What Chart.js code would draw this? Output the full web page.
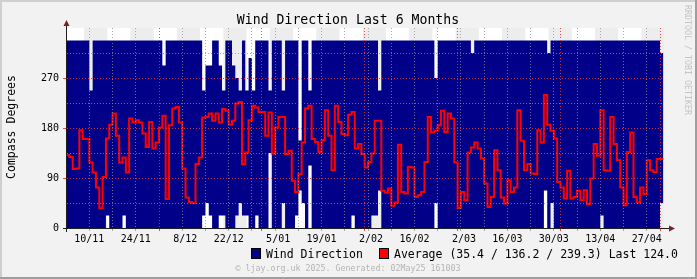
<!DOCTYPE html>
<html>
<head>
<meta charset="utf-8">
<script src="https://cdn.jsdelivr.net/npm/chart.js@4.4.0/dist/chart.umd.min.js"></script>
<style>
  html, body { margin: 0; padding: 0; background: #f2f2f2; }
  #wrap { width: 697px; height: 279px; }
</style>
</head>
<body>
<div id="wrap"><canvas id="myChart" width="697" height="279"></canvas></div>
<script>
// x values are days counted from 1 Nov 2024 (0 = 1 Nov), one bin per day
const firstDay = 2;

// daily average direction (red line), 3 Nov .. 1 May
const avgDir = [
  131, 128, 106, 107, 176, 160, 160, 118, 100, 73,
  35.4, 92, 161, 186, 206, 166, 118, 127, 100, 197,
  190, 194, 190, 170, 146, 191, 143, 154, 181, 202,
  52, 185, 215, 218, 190, 107, 55, 47, 45, 115,
  127, 199, 200, 206, 193, 206, 190, 214, 211, 186,
  193, 224, 227, 115, 136, 194, 220, 217, 209, 209,
  166, 208, 134, 181, 200, 200, 133, 139, 85, 65,
  97, 154, 215, 220, 160, 155, 137, 158, 212, 166,
  104, 220, 191, 169, 167, 204, 209, 143, 151, 133,
  109, 119, 134, 193, 193, 67, 64, 71, 40, 46,
  150, 65, 62, 110, 109, 56, 59, 65, 119, 200,
  172, 175, 185, 211, 173, 206, 197, 118, 36, 65,
  50, 136, 145, 154, 143, 125, 80, 38, 56, 140,
  104, 55, 44, 86, 65, 73, 212, 157, 104, 115,
  98, 97, 176, 154, 239.3, 186, 175, 161, 83, 73,
  53, 103, 53, 56, 67, 50, 68, 43, 89, 151,
  130, 212, 104, 103, 200, 151, 122, 73, 41, 137,
  172, 56, 46, 73, 61, 122, 104, 101, 124, 124
];

// daily lowest direction seen (bottom of the blue band)
const minDir = [
  0, 0, 0, 0, 0, 0, 0, 0, 0, 0,
  0, 0, 22.5, 0, 0, 0, 0, 22.5, 0, 0,
  0, 0, 0, 0, 0, 0, 0, 0, 0, 0,
  0, 0, 0, 0, 0, 0, 0, 0, 0, 0,
  0, 22.5, 45, 22.5, 0, 0, 22.5, 22.5, 0, 0,
  0, 22.5, 45, 22.5, 22.5, 0, 0, 22.5, 0, 0,
  0, 135, 0, 0, 0, 45, 0, 0, 0, 22.5,
  67.5, 45, 0, 112.5, 0, 0, 0, 0, 0, 0,
  0, 0, 0, 0, 0, 0, 22.5, 0, 0, 0,
  0, 0, 22.5, 22.5, 67.5, 0, 0, 0, 0, 0,
  0, 0, 0, 0, 0, 0, 0, 0, 0, 0,
  0, 45, 0, 0, 0, 0, 0, 0, 0, 0,
  0, 0, 0, 0, 0, 0, 0, 0, 0, 0,
  0, 0, 0, 0, 0, 0, 0, 0, 0, 0,
  0, 0, 0, 0, 67.5, 0, 45, 0, 0, 0,
  0, 0, 0, 0, 0, 0, 0, 0, 0, 0,
  0, 22.5, 0, 0, 0, 0, 0, 0, 0, 0,
  0, 0, 0, 0, 0, 0, 0, 0, 0, 45
];

// daily highest direction seen (top of the blue band)
const maxDir = [
  337.5, 337.5, 337.5, 337.5, 337.5, 337.5, 337.5, 247.5, 337.5, 337.5,
  337.5, 337.5, 337.5, 337.5, 337.5, 337.5, 337.5, 337.5, 337.5, 337.5,
  337.5, 337.5, 337.5, 337.5, 337.5, 337.5, 337.5, 337.5, 337.5, 292.5,
  337.5, 337.5, 337.5, 337.5, 337.5, 337.5, 337.5, 337.5, 337.5, 337.5,
  337.5, 247.5, 292.5, 292.5, 337.5, 337.5, 292.5, 247.5, 337.5, 337.5,
  292.5, 270, 247.5, 337.5, 247.5, 306, 247.5, 337.5, 337.5, 337.5,
  337.5, 247.5, 337.5, 337.5, 337.5, 247.5, 337.5, 337.5, 337.5, 337.5,
  157.5, 337.5, 337.5, 247.5, 337.5, 337.5, 337.5, 337.5, 337.5, 337.5,
  337.5, 337.5, 337.5, 337.5, 337.5, 337.5, 337.5, 337.5, 337.5, 337.5,
  337.5, 337.5, 337.5, 337.5, 247.5, 337.5, 337.5, 337.5, 337.5, 337.5,
  337.5, 337.5, 337.5, 337.5, 337.5, 337.5, 337.5, 337.5, 337.5, 337.5,
  337.5, 270, 337.5, 337.5, 337.5, 337.5, 337.5, 337.5, 337.5, 337.5,
  337.5, 337.5, 315, 337.5, 337.5, 337.5, 337.5, 337.5, 337.5, 337.5,
  337.5, 337.5, 337.5, 337.5, 337.5, 337.5, 337.5, 337.5, 337.5, 337.5,
  337.5, 337.5, 337.5, 337.5, 337.5, 315, 337.5, 337.5, 337.5, 337.5,
  337.5, 337.5, 337.5, 337.5, 337.5, 337.5, 337.5, 337.5, 337.5, 337.5,
  337.5, 337.5, 337.5, 337.5, 337.5, 337.5, 337.5, 337.5, 337.5, 337.5,
  337.5, 337.5, 337.5, 337.5, 337.5, 337.5, 337.5, 337.5, 337.5, 315
];

// x axis labels (Sundays, every 2 weeks) and month starts
const tickDays = [9, 23, 37, 51, 65, 79, 93, 107, 121, 135, 149, 163, 177];
const tickLabels = ['10/11', '24/11', ' 8/12', '22/12', ' 5/01', '19/01', ' 2/02',
                    '16/02', ' 2/03', '16/03', '30/03', '13/04', '27/04'];
const monthDays = [30, 61, 92, 120, 151, 181];
const yTicks = [0, 90, 180, 270];

const GRID = 'rgba(143,143,143,0.75)';
const MGRID = 'rgba(235,45,45,0.85)';
const MONO = 'DejaVu Sans Mono';

function steps(values) {
  const pts = values.map((v, i) => ({ x: firstDay + i, y: v }));
  pts.push({ x: firstDay + values.length, y: values[values.length - 1] });
  return pts;
}

const gridDays = [];
for (let d = tickDays[0]; d < 182.2; d += 7) gridDays.push(d);
monthDays.forEach(d => { if (!gridDays.includes(d)) gridDays.push(d); });
gridDays.sort((a, b) => a - b);

const yGrid = [];
for (let v = 0; v < 360; v += 22.5) yGrid.push(v);

// canvas background, frame and the weekly white / grey bands
const backdrop = {
  id: 'backdrop',
  beforeDraw(chart) {
    const { ctx, width, height } = chart;
    ctx.save();
    ctx.fillStyle = '#f2f2f2';
    ctx.fillRect(0, 0, width, height);
    ctx.fillStyle = '#cfcfcf';
    ctx.fillRect(0, 0, width, 2);
    ctx.fillRect(0, 0, 2, height);
    ctx.fillStyle = '#9e9e9e';
    ctx.fillRect(0, height - 2, width, 2);
    ctx.fillRect(width - 2, 0, 2, height);
    ctx.restore();
  },
  beforeDatasetsDraw(chart) {
    const { ctx, chartArea: a, scales: { x } } = chart;
    ctx.save();
    ctx.fillStyle = '#ffffff';
    ctx.fillRect(a.left, a.top, a.width, a.height);
    ctx.fillStyle = '#ededed';
    for (let s = 7.4; s < x.max; s += 14) {
      const x0 = Math.max(x.getPixelForValue(s), a.left);
      const x1 = Math.min(x.getPixelForValue(s + 7), a.right);
      if (x1 > x0) ctx.fillRect(x0, a.top, x1 - x0, a.height);
    }
    ctx.restore();
  }
};

// axes with arrows, title, legend and the small texts
const decor = {
  id: 'decor',
  afterDraw(chart) {
    const { ctx, chartArea: a } = chart;
    ctx.save();
    ctx.fillStyle = '#1f1f1f';
    ctx.fillRect(a.left - 4, a.bottom, a.right - a.left + 10, 1);
    ctx.fillRect(a.left - 1, a.top - 6, 1, a.bottom - a.top + 10);
    ctx.fillStyle = '#801f1f';
    ctx.beginPath();
    ctx.moveTo(a.right + 11, a.bottom + 0.5);
    ctx.lineTo(a.right + 5, a.bottom - 2.5);
    ctx.lineTo(a.right + 5, a.bottom + 3.5);
    ctx.fill();
    ctx.beginPath();
    ctx.moveTo(a.left - 0.5, a.top - 8);
    ctx.lineTo(a.left - 3.5, a.top - 2);
    ctx.lineTo(a.left + 2.5, a.top - 2);
    ctx.fill();

    ctx.fillStyle = '#000';
    ctx.textBaseline = 'alphabetic';
    ctx.font = '13.2px "' + MONO + '"';
    ctx.textAlign = 'center';
    ctx.fillText('Wind Direction Last 6 Months', 348, 24);

    ctx.font = '11.5px "' + MONO + '"';
    ctx.save();
    ctx.translate(15, 127);
    ctx.rotate(-Math.PI / 2);
    ctx.fillText('Compass Degrees', 0, 0);
    ctx.restore();

    ctx.textAlign = 'left';
    ctx.fillStyle = '#000088';
    ctx.fillRect(252, 249, 8, 9);
    ctx.strokeStyle = '#000';
    ctx.lineWidth = 1;
    ctx.strokeRect(251.5, 248.5, 9, 10);
    ctx.fillStyle = '#ff0000';
    ctx.fillRect(380, 249, 8, 9);
    ctx.strokeRect(379.5, 248.5, 9, 10);
    ctx.fillStyle = '#000';
    ctx.fillText('Wind Direction', 266, 258);
    ctx.fillText('Average (35.4 / 136.2 / 239.3) Last 124.0', 394, 258);

    ctx.font = '8.3px "' + MONO + '"';
    ctx.fillStyle = '#b4b4b4';
    ctx.textAlign = 'center';
    ctx.fillText('\u00a9 ljay.org.uk 2025. Generated: 02May25 161003', 348, 271);

    ctx.fillStyle = '#c4c4c4';
    ctx.textAlign = 'left';
    ctx.translate(684.5, 5);
    ctx.rotate(Math.PI / 2);
    ctx.fillText('RRDTOOL / TOBI OETIKER', 0, 0);
    ctx.restore();
  }
};

const ctx = document.getElementById('myChart').getContext('2d');
new Chart(ctx, {
  type: 'line',
  data: {
    datasets: [
      {
        label: 'Wind Direction',
        data: steps(maxDir),
        stepped: true,
        borderWidth: 0,
        borderColor: 'rgba(0,0,0,0)',
        pointRadius: 0,
        backgroundColor: '#000088',
        fill: 1,
        order: 2
      },
      {
        label: 'low',
        data: steps(minDir),
        stepped: true,
        borderWidth: 0,
        borderColor: 'rgba(0,0,0,0)',
        pointRadius: 0,
        fill: false,
        order: 3
      },
      {
        label: 'Average',
        data: steps(avgDir),
        stepped: true,
        borderColor: '#ff0000',
        borderWidth: 2,
        pointRadius: 0,
        fill: false,
        order: 1
      }
    ]
  },
  options: {
    responsive: false,
    animation: false,
    devicePixelRatio: 1,
    layout: { padding: { left: 0, top: 28, right: 33, bottom: 0 } },
    plugins: { legend: { display: false }, tooltip: { enabled: false }, title: { display: false } },
    scales: {
      x: {
        type: 'linear',
        min: 2.27,
        max: 182.2,
        afterBuildTicks: s => { s.ticks = gridDays.map(v => ({ value: v })); },
        afterFit: s => { s.height = 51; },
        grid: {
          z: 1,
          lineWidth: 1,
          tickLength: 3,
          color: c => monthDays.includes(c.tick.value) ? MGRID : GRID,
          tickColor: c => monthDays.includes(c.tick.value) ? MGRID : GRID
        },
        border: { display: false, dash: [1, 2] },
        ticks: {
          autoSkip: false,
          maxRotation: 0,
          padding: 2,
          color: '#000',
          font: { family: MONO, size: 10 },
          callback: v => {
            const k = tickDays.indexOf(v);
            return k >= 0 ? tickLabels[k] : '';
          }
        }
      },
      y: {
        type: 'linear',
        min: 0,
        max: 360,
        afterBuildTicks: s => { s.ticks = yGrid.map(v => ({ value: v })); },
        afterFit: s => { s.width = 67; },
        grid: {
          z: 1,
          lineWidth: 1,
          tickLength: 4,
          color: c => c.tick.value === 0 ? 'rgba(0,0,0,0)' : (yTicks.includes(c.tick.value) ? MGRID : GRID),
          tickColor: c => yTicks.includes(c.tick.value) && c.tick.value > 0 ? MGRID : 'rgba(0,0,0,0)'
        },
        border: { display: false, dash: [1, 2] },
        ticks: {
          padding: 4,
          color: '#000',
          font: { family: MONO, size: 10 },
          callback: v => yTicks.includes(v) ? String(v) : ''
        }
      }
    }
  },
  plugins: [backdrop, decor]
});
</script>
</body>
</html>
